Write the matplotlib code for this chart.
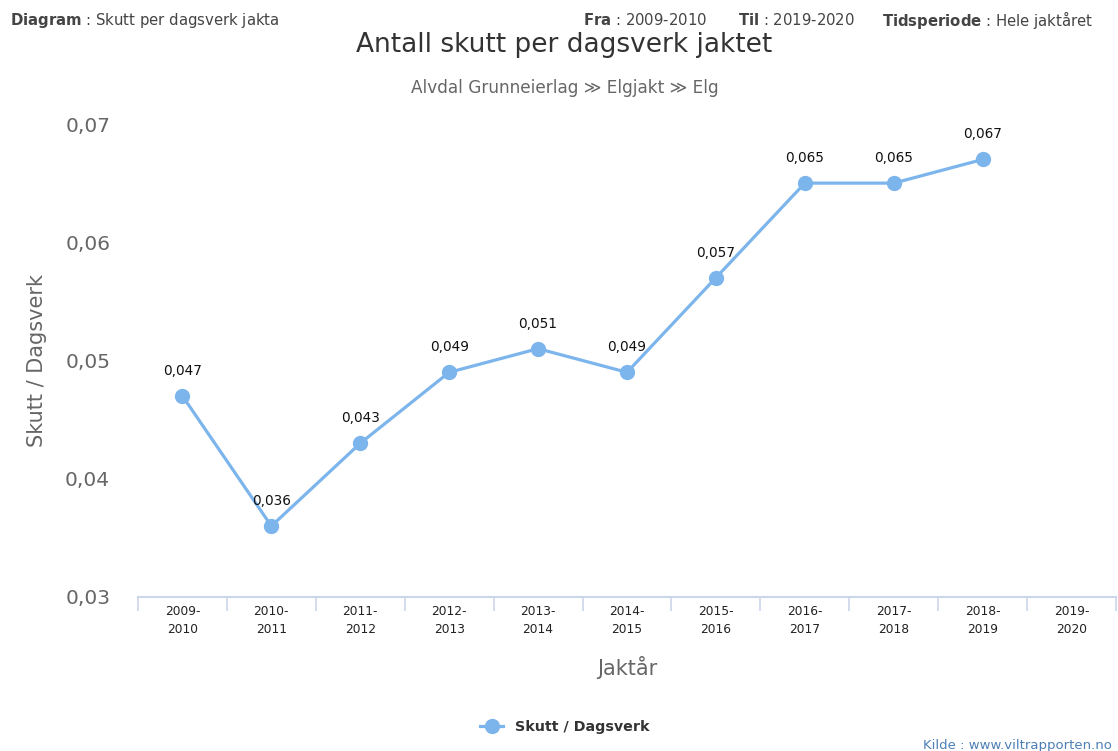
import numpy as np
import matplotlib.pyplot as plt
from matplotlib.lines import Line2D

seasons = ['2009-\n2010', '2010-\n2011', '2011-\n2012', '2012-\n2013', '2013-\n2014',
           '2014-\n2015', '2015-\n2016', '2016-\n2017', '2017-\n2018', '2018-\n2019',
           '2019-\n2020']
values = [0.047, 0.036, 0.043, 0.049, 0.051, 0.049, 0.057, 0.065, 0.065, 0.067, np.nan]
y_ticks = [0.03, 0.04, 0.05, 0.06, 0.07]

line_color = '#7cb5ec'

plt.rcParams['font.family'] = 'DejaVu Sans'
fig = plt.figure(figsize=(11.18, 7.51), dpi=100)
ax = fig.add_axes([138 / 1118, 154 / 751, (1116 - 138) / 1118, (597 - 124) / 751])

x = np.arange(len(seasons))
ax.plot(x, values, color=line_color, lw=2.3, marker='o', ms=10, zorder=3, clip_on=False)
for xi, v in zip(x, values):
    if not np.isnan(v):
        ax.annotate(f'{v:.3f}'.replace('.', ','), (xi, v), xytext=(0, 13),
                    textcoords='offset points', ha='center', va='bottom',
                    fontsize=9.8, color='#111111')

ax.set_xlim(-0.5, len(seasons) - 0.5)
ax.set_ylim(0.03, 0.07)
ax.set_yticks(y_ticks)
ax.set_yticklabels([f'{t:.2f}'.replace('.', ',') for t in y_ticks], fontsize=14.5, color='#666666')
ax.tick_params(axis='y', length=0, pad=20)

ax.set_xticks(x)
ax.set_xticklabels(seasons, fontsize=8.8, color='#222222', linespacing=1.5)
ax.set_xticks(np.arange(-0.5, len(seasons)), minor=True)
ax.tick_params(axis='x', which='major', length=0, pad=6)
ax.tick_params(axis='x', which='minor', length=10, color='#ccd6eb', width=1.2)

for s in ['top', 'right', 'left']:
    ax.spines[s].set_visible(False)
ax.spines['bottom'].set_color('#ccd6eb')
ax.spines['bottom'].set_linewidth(1.5)

ax.set_ylabel('Skutt / Dagsverk', fontsize=15, color='#666666', labelpad=13)
ax.set_xlabel('Jaktår', fontsize=15, color='#666666', labelpad=14)

# header
fig.text(10 / 1118, 1 - 20 / 751, r'$\bf{Diagram}$ : Skutt per dagsverk jakta', fontsize=10.7,
         color='#444444', va='center')
fig.text(583 / 1118, 1 - 20 / 751, r'$\bf{Fra}$ : 2009-2010', fontsize=10.7, color='#444444', va='center')
fig.text(738 / 1118, 1 - 20 / 751, r'$\bf{Til}$ : 2019-2020', fontsize=10.7, color='#444444', va='center')
fig.text(1093 / 1118, 1 - 20 / 751, r'$\bf{Tidsperiode}$ : Hele jaktåret', fontsize=10.7,
         color='#444444', va='center', ha='right')

fig.text(0.505, 1 - 45 / 751, 'Antall skutt per dagsverk jaktet', fontsize=19,
         color='#333333', ha='center', va='center')
fig.text(0.505, 1 - 88 / 751, 'Alvdal Grunneierlag ≫ Elgjakt ≫ Elg', fontsize=12.2,
         color='#666666', ha='center', va='center')

handle = Line2D([], [], color=line_color, lw=2.3, marker='o', ms=10)
fig.legend([handle], ['Skutt / Dagsverk'], loc='center', bbox_to_anchor=(0.505, 1 - 727 / 751),
           frameon=False, prop={'weight': 'bold', 'size': 10.3}, handlelength=1.6, labelcolor='#333333')

fig.text(1112 / 1118, 1 - 745 / 751, 'Kilde : www.viltrapporten.no', fontsize=9.5,
         color='#4d7fb5', ha='right', va='center')

fig.savefig('out.png', dpi=100)
